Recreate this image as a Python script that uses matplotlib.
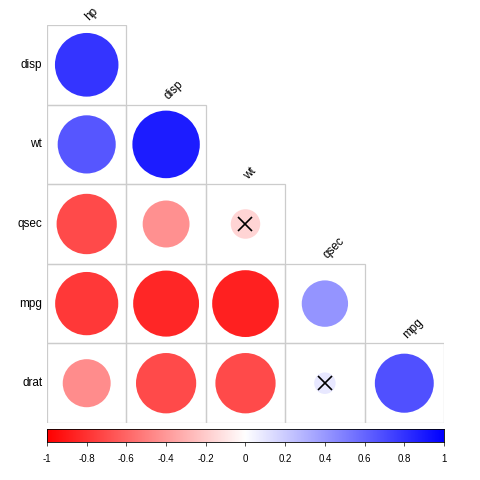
import matplotlib
matplotlib.use('Agg')
import matplotlib.pyplot as plt
from matplotlib.colors import LinearSegmentedColormap
from matplotlib.patches import Circle, Rectangle
import numpy as np

plt.rcParams['font.family'] = ['Liberation Sans', 'DejaVu Sans']

# Data: lower-triangle correlations (mtcars subset)
row_labels = ['disp', 'wt', 'qsec', 'mpg', 'drat']
col_labels = ['hp', 'disp', 'wt', 'qsec', 'mpg']
corr = [
    [0.79],
    [0.66, 0.89],
    [-0.71, -0.43, -0.17],
    [-0.78, -0.85, -0.87, 0.42],
    [-0.45, -0.71, -0.71, 0.09, 0.68],
]
insignificant = [(2, 2), (4, 3)]  # (row, col) crossed out
cbar_ticks = [-1, -0.8, -0.6, -0.4, -0.2, 0, 0.2, 0.4, 0.6, 0.8, 1]

cmap = LinearSegmentedColormap.from_list('rwb', ['#FF0000', '#FFFFFF', '#0000FF'])

W = H = 480
fig = plt.figure(figsize=(4.8, 4.8), dpi=100)
ax = fig.add_axes([47 / W, (H - 423) / H, 397 / W, 398 / H])
ax.set_xlim(0, 5)
ax.set_ylim(5, 0)
ax.axis('off')

n = len(row_labels)
for i in range(n):
    for j in range(i + 1):
        r = corr[i][j]
        ax.add_patch(Rectangle((j, i), 1, 1, facecolor='none',
                               edgecolor='#cccccc', linewidth=0.9, zorder=1))
        rad = 0.45 * np.sqrt(abs(r))
        ax.add_patch(Circle((j + 0.5, i + 0.5), rad,
                            facecolor=cmap((r + 1) / 2), edgecolor='none', zorder=2))
        if (i, j) in insignificant:
            ax.plot([j + 0.5], [i + 0.5], marker='x', color='black',
                    markersize=10, markeredgewidth=1.2, zorder=3)

# row labels
for i, lab in enumerate(row_labels):
    ax.text(-0.06, i + 0.5, lab, ha='right', va='center', fontsize=8.5)

# column labels, rotated above top cell of each column
for j, lab in enumerate(col_labels):
    ax.text(j + 0.56, j - 0.03, lab, ha='left', va='bottom', rotation=45,
            rotation_mode='anchor', fontsize=8.5)

# colorbar
cax = fig.add_axes([47 / W, (H - 442) / H, 397 / W, 13 / H])
grad = np.linspace(-1, 1, 256).reshape(1, -1)
cax.imshow(grad, cmap=cmap, aspect='auto', extent=(-1, 1, 0, 1), vmin=-1, vmax=1)
cax.set_yticks([])
cax.set_xticks(cbar_ticks)
cax.set_xticklabels([f'{t:g}' for t in cbar_ticks], fontsize=7)
cax.tick_params(axis='x', length=3, width=0.6, pad=6, color='#333333')
for s in cax.spines.values():
    s.set_linewidth(0.6)

fig.savefig('out.png', dpi=100)
